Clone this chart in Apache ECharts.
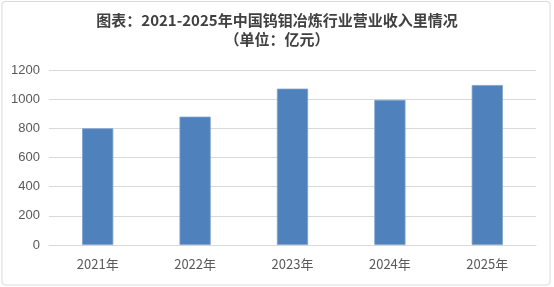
<!DOCTYPE html>
<html>
<head>
<meta charset="utf-8">
<script src="https://cdn.jsdelivr.net/npm/echarts@6/dist/echarts.min.js"></script>
<style>html,body{margin:0;padding:0;background:#fff;}#c{width:554px;height:287px;}</style>
</head>
<body>
<div id="c"></div>
<script>
const titleLine1 = '图表：2021-2025年中国钨钼冶炼行业营业收入里情况';
const titleLine2 = '（单位：亿元）';
const categories = ['2021年', '2022年', '2023年', '2024年', '2025年'];
const revenue = [800, 880, 1072, 995, 1097];
const yTicks = { min: 0, max: 1200, interval: 200 };

const chart = echarts.init(document.getElementById('c'), null, { renderer: 'canvas' });
const font = '"Noto Sans CJK SC", "Microsoft YaHei", sans-serif';
chart.setOption({
  backgroundColor: '#ffffff',
  animation: false,
  graphic: [{
    type: 'rect',
    shape: { x: 2, y: 1.5, width: 548, height: 283.5, r: 3 },
    style: { fill: 'none', stroke: '#d9d9d9', lineWidth: 1 },
    silent: true
  }],
  title: {
    text: titleLine1 + '\n' + titleLine2,
    left: 'center',
    top: 11,
    padding: 0,
    textStyle: {
      fontFamily: font,
      fontSize: 15,
      fontWeight: 'bold',
      color: '#404040',
      lineHeight: 19
    }
  },
  grid: { left: 49, right: 18, top: 70, bottom: 42 },
  xAxis: {
    type: 'category',
    data: categories,
    axisLine: { lineStyle: { color: '#d9d9d9', width: 1 } },
    axisTick: { show: false },
    axisLabel: { color: '#595959', fontSize: 13, fontFamily: font, margin: 13 }
  },
  yAxis: {
    type: 'value',
    min: yTicks.min,
    max: yTicks.max,
    interval: yTicks.interval,
    axisLine: { show: false },
    axisTick: { show: false },
    splitLine: { lineStyle: { color: '#d9d9d9', width: 1 } },
    axisLabel: {
      color: '#595959', fontSize: 13, fontFamily: 'Liberation Sans, Arial, sans-serif', margin: 9,
      formatter: v => String(v)
    }
  },
  series: [{
    type: 'bar',
    data: revenue,
    barWidth: '32%',
    itemStyle: { color: '#4f81bd', borderColor: '#7d9fcc', borderWidth: 0.8 }
  }]
});
</script>
</body>
</html>
